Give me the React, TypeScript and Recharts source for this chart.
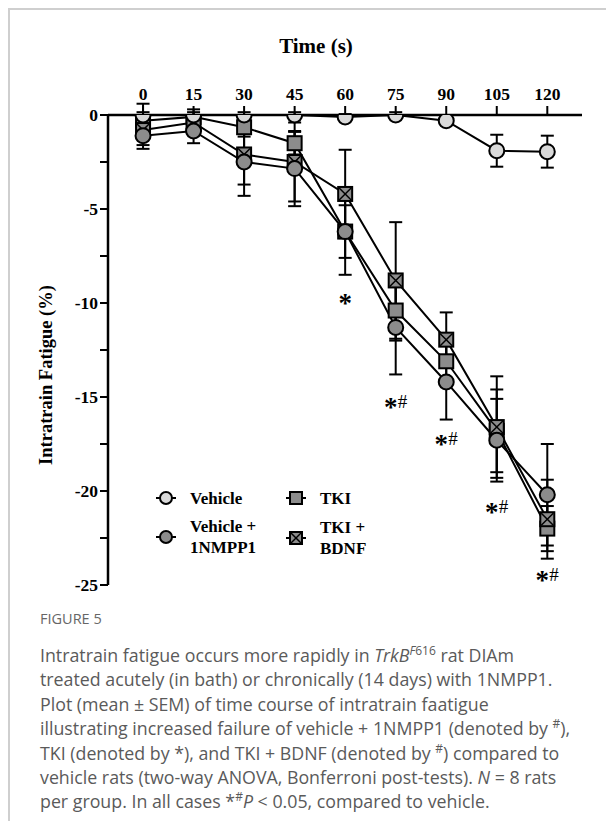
import React from 'react';
import { ComposedChart, Line, XAxis, YAxis, ErrorBar, Scatter } from 'recharts';

// time points (s)
const times = [0, 15, 30, 45, 60, 75, 90, 105, 120];

// mean intratrain fatigue (%) and SEM per group
const vehicle = [0, 0, 0, 0, -0.1, 0, -0.3, -1.9, -1.95];
const vehicleSem = [0.15, 0.15, 0.15, 0.15, 0.15, 0.15, 0.2, 0.85, 0.85];
const nmpp1 = [-1.1, -0.85, -2.5, -2.85, -6.2, -11.3, -14.2, -17.3, -20.2];
const nmpp1Sem = [0.7, 0.65, 1.8, 2.0, 2.3, 2.5, 2.0, 2.2, 2.7];
const tki = [-0.3, -0.1, -0.65, -1.5, -6.2, -10.4, -13.1, -16.8, -22.0];
const tkiSem = [0.9, 0.4, 0.5, 0.6, 1.4, 1.6, 1.2, 2.2, 1.2];
const tkiBdnf = [-0.8, -0.4, -2.1, -2.5, -4.2, -8.8, -11.95, -16.6, -21.5];
const tkiBdnfSem = [0.8, 0.4, 1.6, 2.1, 2.35, 3.1, 1.45, 2.7, 2.1];

// significance marks
const markTimes = [60, 75, 90, 105, 120];
const markValues = [-9.8, -15.3, -17.3, -20.9, -24.5];
const markTexts = ['*', '*#', '*#', '*#', '*#'];

const yTicks = [0, -2.5, -5, -7.5, -10, -12.5, -15, -17.5, -20, -22.5, -25];

const data = times.map((t, i) => ({
  t,
  vehicle: vehicle[i],
  vehicleSem: vehicleSem[i],
  nmpp1: nmpp1[i],
  nmpp1Sem: nmpp1Sem[i],
  tki: tki[i],
  tkiSem: tkiSem[i],
  tkiBdnf: tkiBdnf[i],
  tkiBdnfSem: tkiBdnfSem[i],
}));

const marks = markTimes.map((t, i) => ({ t, mark: markValues[i], text: markTexts[i] }));

const SERIF = '"Liberation Serif", "Times New Roman", serif';
const LIGHT = '#d9d9d9';
const MID = '#8c8c8c';

const circleDot = (fill: string) => (p: any) => (
  <circle key={p.index} cx={p.cx} cy={p.cy} r={7.5} fill={fill} stroke="#000" strokeWidth={2} />
);

const squareDot = (p: any) => (
  <rect key={p.index} x={p.cx - 7} y={p.cy - 7} width={14} height={14} fill={MID} stroke="#000" strokeWidth={2} />
);

const crossDot = (p: any) => (
  <g key={p.index}>
    <rect x={p.cx - 7} y={p.cy - 7} width={14} height={14} fill={MID} stroke="#000" strokeWidth={2} />
    <line x1={p.cx - 6} y1={p.cy - 6} x2={p.cx + 6} y2={p.cy + 6} stroke="#000" strokeWidth={1.5} />
    <line x1={p.cx + 6} y1={p.cy - 6} x2={p.cx - 6} y2={p.cy + 6} stroke="#000" strokeWidth={1.5} />
  </g>
);

const XTick = ({ x, y, payload }: any) => (
  <text x={x} y={y - 4} textAnchor="middle" fontFamily={SERIF} fontWeight={700} fontSize={17.5} fill="#000">
    {payload.value}
  </text>
);

const YTick = ({ x, y, payload }: any) => {
  if (payload.value % 5 !== 0) return <g />;
  return (
    <text x={x} y={y + 6} textAnchor="end" fontFamily={SERIF} fontWeight={700} fontSize={17.5} fill="#000">
      {payload.value}
    </text>
  );
};

const MarkShape = (p: any) => {
  const { cx, cy, payload } = p;
  const hasHash = payload.text.length > 1;
  return (
    <g>
      <text x={hasHash ? cx - 5 : cx} y={cy + 13} textAnchor="middle" fontFamily={SERIF} fontWeight={700} fontSize={27} fill="#000">*</text>
      {hasHash && (
        <text x={cx + 2} y={cy + 5} fontFamily={SERIF} fontSize={19} fill="#000">#</text>
      )}
    </g>
  );
};

const LegendMarker = ({ kind }: { kind: string }) => (
  <svg width={22} height={18}>
    <line x1={1} y1={9} x2={21} y2={9} stroke="#000" strokeWidth={2} />
    {kind === 'vehicle' && <circle cx={11} cy={9} r={6} fill={LIGHT} stroke="#000" strokeWidth={2} />}
    {kind === 'nmpp1' && <circle cx={11} cy={9} r={6} fill={MID} stroke="#000" strokeWidth={2} />}
    {kind === 'tki' && <rect x={5} y={3} width={12} height={12} fill={MID} stroke="#000" strokeWidth={2} />}
    {kind === 'bdnf' && (
      <g>
        <rect x={5} y={3} width={12} height={12} fill={MID} stroke="#000" strokeWidth={2} />
        <line x1={6} y1={4} x2={16} y2={14} stroke="#000" strokeWidth={1.5} />
        <line x1={16} y1={4} x2={6} y2={14} stroke="#000" strokeWidth={1.5} />
      </g>
    )}
  </svg>
);

const legendItems = [
  { kind: 'vehicle', label: 'Vehicle', left: 155, top: 476 },
  { kind: 'tki', label: 'TKI', left: 285, top: 476 },
  { kind: 'nmpp1', label: 'Vehicle + 1NMPP1', left: 155, top: 515 },
  { kind: 'bdnf', label: 'TKI + BDNF', left: 285, top: 516 },
];

const sup: React.CSSProperties = { position: 'relative', top: -7, fontSize: 12, lineHeight: 0 };

export default function App() {
  return (
    <div
      style={{
        position: 'relative',
        width: 606,
        height: 813,
        borderTop: '2px solid #cfcfcf',
        borderLeft: '2px solid #cfcfcf',
        boxSizing: 'border-box',
      }}
    >
      <div style={{ position: 'absolute', left: -10, top: -10, width: 614, height: 600 }}>
        <ComposedChart width={614} height={600} data={data} margin={{ top: 85, right: 32, bottom: 15, left: 0 }}>
          <XAxis
            dataKey="t"
            type="number"
            orientation="top"
            domain={[-10.4, 130.3]}
            ticks={times}
            interval={0}
            allowDataOverflow
            height={30}
            tickSize={9}
            axisLine={{ stroke: '#000', strokeWidth: 2.5 }}
            tickLine={{ stroke: '#000', strokeWidth: 2 }}
            tick={<XTick />}
          />
          <YAxis
            type="number"
            domain={[-25, 0]}
            ticks={yTicks}
            interval={0}
            allowDataOverflow
            width={108}
            tickSize={8}
            axisLine={{ stroke: '#000', strokeWidth: 2.5 }}
            tickLine={{ stroke: '#000', strokeWidth: 2 }}
            tick={<YTick />}
          />
          <Line dataKey="tki" name="TKI" stroke="#000" strokeWidth={2} dot={squareDot} activeDot={false} isAnimationActive={false}>
            <ErrorBar dataKey="tkiSem" width={6.5} stroke="#000" strokeWidth={2} />
          </Line>
          <Line dataKey="tkiBdnf" name="TKI + BDNF" stroke="#000" strokeWidth={2} dot={crossDot} activeDot={false} isAnimationActive={false}>
            <ErrorBar dataKey="tkiBdnfSem" width={6.5} stroke="#000" strokeWidth={2} />
          </Line>
          <Line dataKey="nmpp1" name="Vehicle + 1NMPP1" stroke="#000" strokeWidth={2} dot={circleDot(MID)} activeDot={false} isAnimationActive={false}>
            <ErrorBar dataKey="nmpp1Sem" width={6.5} stroke="#000" strokeWidth={2} />
          </Line>
          <Line dataKey="vehicle" name="Vehicle" stroke="#000" strokeWidth={2} dot={circleDot(LIGHT)} activeDot={false} isAnimationActive={false}>
            <ErrorBar dataKey="vehicleSem" width={6.5} stroke="#000" strokeWidth={2} />
          </Line>
          <Scatter data={marks} dataKey="mark" shape={MarkShape} legendType="none" isAnimationActive={false} />
        </ComposedChart>

        <div
          style={{
            position: 'absolute',
            left: 316,
            top: 46,
            transform: 'translate(-50%, -50%)',
            fontFamily: SERIF,
            fontWeight: 700,
            fontSize: 21,
            whiteSpace: 'nowrap',
          }}
        >
          Time (s)
        </div>
        <div
          style={{
            position: 'absolute',
            left: 46,
            top: 375,
            transform: 'translate(-50%, -50%) rotate(-90deg)',
            fontFamily: SERIF,
            fontWeight: 700,
            fontSize: 18.5,
            whiteSpace: 'nowrap',
          }}
        >
          Intratrain Fatigue (%)
        </div>

        {legendItems.map((it) => (
          <div
            key={it.kind}
            style={{
              position: 'absolute',
              left: it.left,
              top: it.top,
              height: 44,
              display: 'flex',
              alignItems: 'center',
              fontFamily: SERIF,
              fontWeight: 700,
              fontSize: 17,
              lineHeight: '21px',
            }}
          >
            <LegendMarker kind={it.kind} />
            <div style={{ marginLeft: 13, width: it.kind === 'nmpp1' ? 100 : 62 }}>{it.label}</div>
          </div>
        ))}
      </div>

      <div
        style={{
          position: 'absolute',
          left: 30,
          top: 597,
          fontFamily: '"Open Sans", sans-serif',
          color: '#5a5a5a',
          whiteSpace: 'nowrap',
        }}
      >
        <div style={{ fontSize: 14.5, lineHeight: '24px', color: '#666' }}>FIGURE 5</div>
        <div style={{ fontSize: 17.8, lineHeight: '24.4px', marginTop: 12 }}>
          Intratrain fatigue occurs more rapidly in <i>TrkB</i>
          <span style={sup}>
            <i>F</i>616
          </span>{' '}
          rat DIAm
          <br />
          treated acutely (in bath) or chronically (14 days) with 1NMPP1.
          <br />
          Plot (mean ± SEM) of time course of intratrain faatigue
          <br />
          illustrating increased failure of vehicle + 1NMPP1 (denoted by <span style={sup}>#</span>),
          <br />
          TKI (denoted by *), and TKI + BDNF (denoted by <span style={sup}>#</span>) compared to
          <br />
          vehicle rats (two-way ANOVA, Bonferroni post-tests). <i>N</i> = 8 rats
          <br />
          per group. In all cases *<span style={sup}>#</span>
          <i>P</i> &lt; 0.05, compared to vehicle.
        </div>
      </div>
    </div>
  );
}
